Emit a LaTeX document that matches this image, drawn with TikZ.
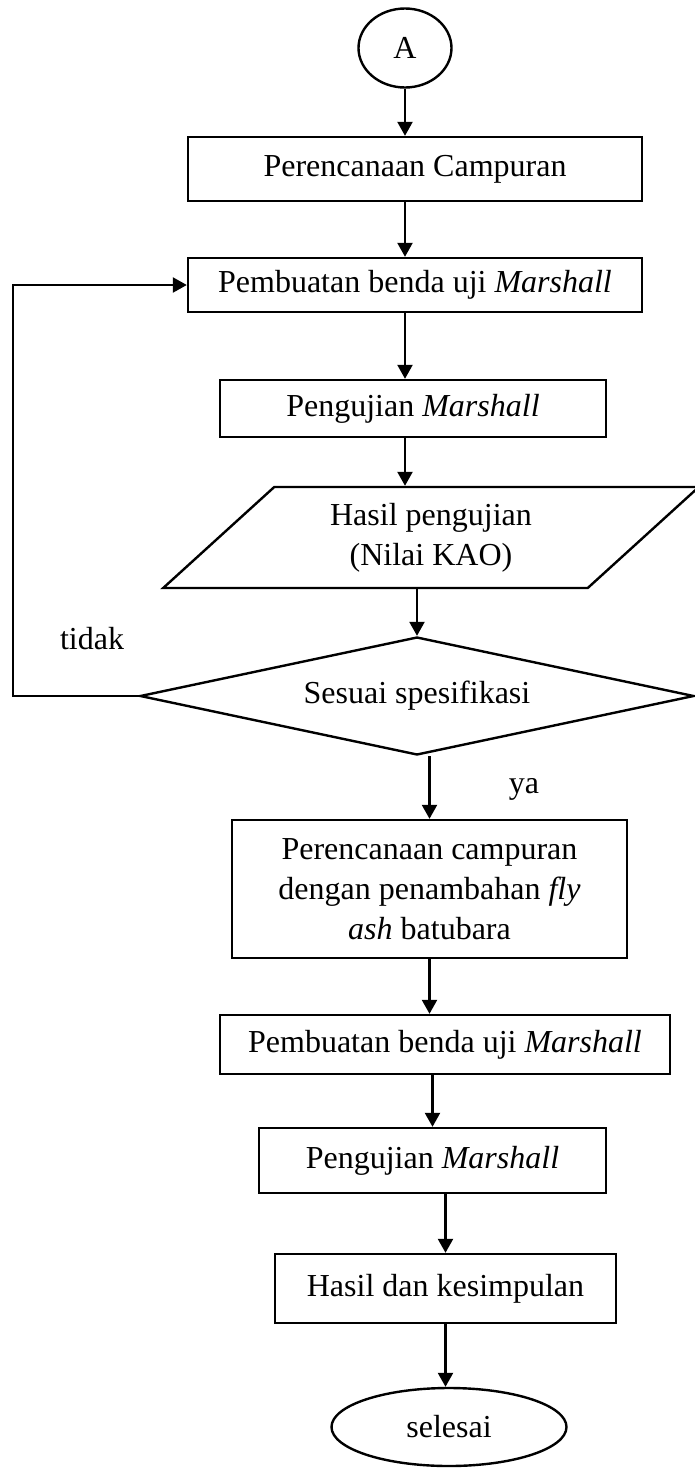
\documentclass[tikz,border=0pt]{standalone}
\usepackage{fontspec}
\setmainfont{Liberation Serif}
\usetikzlibrary{shapes.geometric,arrows.meta}

\begin{document}
\begin{tikzpicture}[x=1pt, y=-1pt, line width=2.4pt,
		every node/.style={font=\fontsize{32}{40}\selectfont},
		box/.style={draw, rectangle, inner sep=0pt, align=center},
		arr/.style={-{Triangle[width=15pt, length=14pt]}}]
	\useasboundingbox (0, 0) rectangle (695, 1468);
	\node[draw, ellipse, inner sep=0pt, minimum width=93pt, minimum height=79pt] (A) at (405, 48) {A};
	\node[box, minimum width=454pt, minimum height=64pt] (plan) at (415, 169) {Perencanaan Campuran};
	\node[box, minimum width=454pt, minimum height=54pt] (make) at (415, 285) {Pembuatan benda uji \textit{Marshall}};
	\node[box, minimum width=386pt, minimum height=57pt] (test) at (413, 408.5) {Pengujian \textit{Marshall}};
	\node[draw, trapezium, trapezium left angle=44, trapezium right angle=136, trapezium stretches=true,
		inner sep=0pt, align=center, minimum width=536pt, minimum height=101pt] (kao) at (431, 537.5) {Hasil pengujian\\(Nilai KAO)};
	\node[draw, diamond, aspect=4.7, inner sep=0pt, minimum width=554pt, minimum height=118pt] (cek) at (417, 696) {Sesuai spesifikasi};
	\node (tidak) at (92, 639) {tidak};
	\node (ya) at (524, 789) {ya};
	\node[box, minimum width=395pt, minimum height=138pt] (planfly) at (429.5, 889) {Perencanaan campuran\\dengan penambahan \textit{fly}\\\textit{ash} batubara};
	\node[box, minimum width=450pt, minimum height=59pt] (make2) at (445, 1044.5) {Pembuatan benda uji \textit{Marshall}};
	\node[box, minimum width=347pt, minimum height=65pt] (test2) at (432.5, 1160.5) {Pengujian \textit{Marshall}};
	\node[box, minimum width=341pt, minimum height=69pt] (result) at (445.5, 1288.5) {Hasil dan kesimpulan};
	\node[draw, ellipse, inner sep=0pt, minimum width=235pt, minimum height=78pt] (selesai) at (449, 1427) {selesai};

	\draw[arr] (A) -- (A |- plan.north);
	\draw[arr] (plan.south -| A) -- (make.north -| A);
	\draw[arr] (make.south -| A) -- (test.north -| A);
	\draw[arr] (test.south -| A) -- (kao.north -| A);
	\draw[arr] (kao.south -| cek) -- (cek.north);
	\draw[arr] (cek.west) -- ++(-126, 0) |- (make.west);
	\draw[arr] (cek.south -| planfly) -- (planfly.north);
	\draw[arr] (planfly) -- (planfly |- make2.north);
	\draw[arr] (make2.south -| test2) -- (test2.north);
	\draw[arr] (test2.south -| result) -- (result.north);
	\draw[arr] (result) -- (result |- selesai.north);
\end{tikzpicture}
\end{document}
